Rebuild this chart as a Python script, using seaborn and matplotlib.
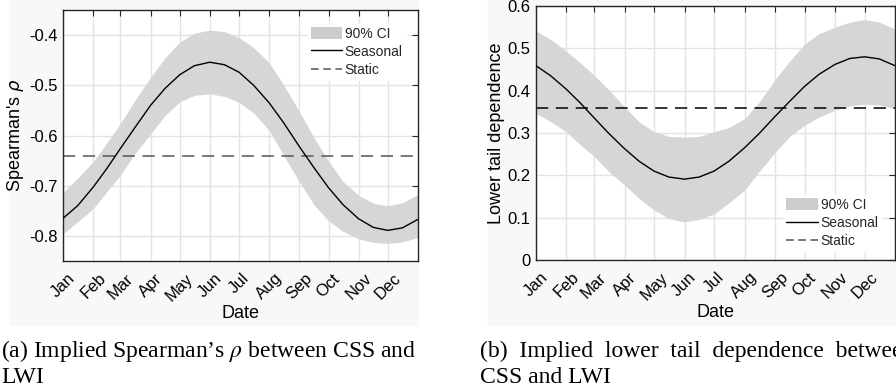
import numpy as np
import matplotlib
matplotlib.use("Agg")
import matplotlib.pyplot as plt
from matplotlib.patches import Patch, Rectangle
from matplotlib.lines import Line2D
import seaborn as sns

# day of year at which each value was read
days = [0, 15, 31, 45, 59, 74, 90, 105, 120, 135, 151, 166, 181,
        196, 212, 227, 243, 258, 273, 288, 304, 319, 334, 349, 365]
month_ticks = [0, 31, 59, 90, 120, 151, 181, 212, 243, 273, 304, 334]
month_labels = ["Jan", "Feb", "Mar", "Apr", "May", "Jun",
                "Jul", "Aug", "Sep", "Oct", "Nov", "Dec"]

# (a) Spearman's rho
rho_seasonal = [-0.765, -0.740, -0.703, -0.666, -0.626, -0.584, -0.540, -0.506, -0.479,
                -0.461, -0.454, -0.459, -0.474, -0.500, -0.535, -0.575, -0.622, -0.664,
                -0.704, -0.738, -0.766, -0.783, -0.789, -0.784, -0.767]
rho_upper = [-0.713, -0.685, -0.652, -0.615, -0.576, -0.530, -0.484, -0.445, -0.414,
             -0.396, -0.390, -0.393, -0.405, -0.425, -0.455, -0.500, -0.552, -0.604,
             -0.651, -0.692, -0.719, -0.735, -0.740, -0.734, -0.717]
rho_lower = [-0.796, -0.772, -0.746, -0.712, -0.679, -0.636, -0.597, -0.560, -0.533,
             -0.520, -0.517, -0.522, -0.534, -0.555, -0.590, -0.640, -0.692, -0.738,
             -0.770, -0.791, -0.806, -0.813, -0.815, -0.812, -0.803]
rho_static = -0.64

# (b) lower tail dependence
tail_seasonal = [0.459, 0.435, 0.403, 0.371, 0.336, 0.299, 0.263, 0.233, 0.210,
                 0.196, 0.191, 0.196, 0.210, 0.233, 0.265, 0.299, 0.339, 0.375,
                 0.410, 0.439, 0.462, 0.476, 0.480, 0.475, 0.459]
tail_upper = [0.541, 0.521, 0.493, 0.466, 0.437, 0.402, 0.362, 0.326, 0.303,
              0.292, 0.290, 0.292, 0.303, 0.313, 0.334, 0.373, 0.426, 0.470,
              0.510, 0.535, 0.550, 0.562, 0.568, 0.562, 0.546]
tail_lower = [0.346, 0.327, 0.302, 0.272, 0.245, 0.209, 0.177, 0.145, 0.118,
              0.098, 0.090, 0.096, 0.108, 0.135, 0.165, 0.209, 0.254, 0.292,
              0.318, 0.338, 0.354, 0.364, 0.368, 0.366, 0.358]
tail_static = 0.36

sns.set_theme(style="white")
plt.rcParams["font.family"] = ["Liberation Sans", "DejaVu Sans"]

band_col = "#d6d6d6"
dark = "#262626"

fig = plt.figure(figsize=(8.96, 3.9), dpi=100)
fig.patch.set_facecolor("white")
# faint background of the two sub-figures
fig.patches.append(Rectangle((10 / 896, 65 / 390), 408 / 896, 325 / 390,
                             transform=fig.transFigure, color="#f8f8f8", zorder=-10))
fig.patches.append(Rectangle((488 / 896, 65 / 390), 408 / 896, 325 / 390,
                             transform=fig.transFigure, color="#f8f8f8", zorder=-10))

ax1 = fig.add_axes([63 / 896, 129 / 390, 355 / 896, 251 / 390])
ax2 = fig.add_axes([536 / 896, 130 / 390, 359 / 896, 254 / 390])


def draw(ax, seasonal, upper, lower, static, static_col, ylim, yticks, ylabel):
    ax.set_facecolor("white")
    ax.fill_between(days, lower, upper, color=band_col, lw=0, zorder=1)
    sns.lineplot(x=days, y=seasonal, ax=ax, color="black", lw=1, zorder=3)
    ax.axhline(static, color=static_col, lw=1.1, dashes=(8, 5), zorder=2)
    ax.set_xlim(0, 365)
    ax.set_ylim(*ylim)
    ax.set_yticks(yticks)
    ax.set_yticklabels([f"{t:g}" for t in yticks])
    ax.set_xticks(month_ticks)
    ax.set_xticklabels(month_labels, rotation=45, ha="center", va="top")
    ax.grid(True, color="#e3e3e3", lw=1, zorder=0)
    ax.set_axisbelow(True)
    ax.tick_params(direction="in", length=4, width=0.8, colors=dark,
                   top=True, right=True, labelsize=12, labelcolor="black")
    ax.tick_params(axis="x", pad=7)
    ax.tick_params(axis="y", pad=4)
    for s in ax.spines.values():
        s.set_color(dark)
        s.set_linewidth(1)
    ax.set_xlabel("Date", fontsize=13, color="black", labelpad=1)
    ax.set_ylabel(ylabel, fontsize=13, color="black", labelpad=2)


draw(ax1, rho_seasonal, rho_upper, rho_lower, rho_static, "#555555",
     (-0.85, -0.35), [-0.8, -0.7, -0.6, -0.5, -0.4], r"Spearman's $\rho$")
draw(ax2, tail_seasonal, tail_upper, tail_lower, tail_static, "black",
     (0, 0.6), [0, 0.1, 0.2, 0.3, 0.4, 0.5, 0.6], "Lower tail dependence")


def legend(ax, static_col, loc, anchor):
    handles = [Patch(color="#cccccc", lw=0),
               Line2D([], [], color="black", lw=1),
               Line2D([], [], color=static_col, lw=1.1, dashes=(5, 3))]
    leg = ax.legend(handles, ["90% CI", "Seasonal", "Static"], loc=loc,
                    bbox_to_anchor=anchor, fontsize=10, frameon=True,
                    facecolor="white", edgecolor="white", framealpha=1,
                    fancybox=False, borderpad=0.2, borderaxespad=0,
                    labelspacing=0.3, handlelength=2.25, handleheight=0.9,
                    handletextpad=0.2)
    leg.set_zorder(5)


legend(ax1, "#555555", "upper left", (0.69, 0.945))
legend(ax2, "#555555", "lower left", (0.69, 0.035))

cap = dict(family=["Liberation Serif", "DejaVu Serif"], fontsize=17,
           color="black", va="baseline", ha="left", math_fontfamily="stix")
fig.text(1 / 896, 33 / 390, "(a) Implied Spearman\u2019s $\\rho$ between CSS and", **cap)
fig.text(1 / 896, 7 / 390, "LWI", **cap)
fig.text(480 / 896, 33 / 390, "(b)  Implied  lower  tail  dependence  between", **cap)
fig.text(480 / 896, 7 / 390, "CSS and LWI", **cap)

fig.savefig("out.png", dpi=100)
